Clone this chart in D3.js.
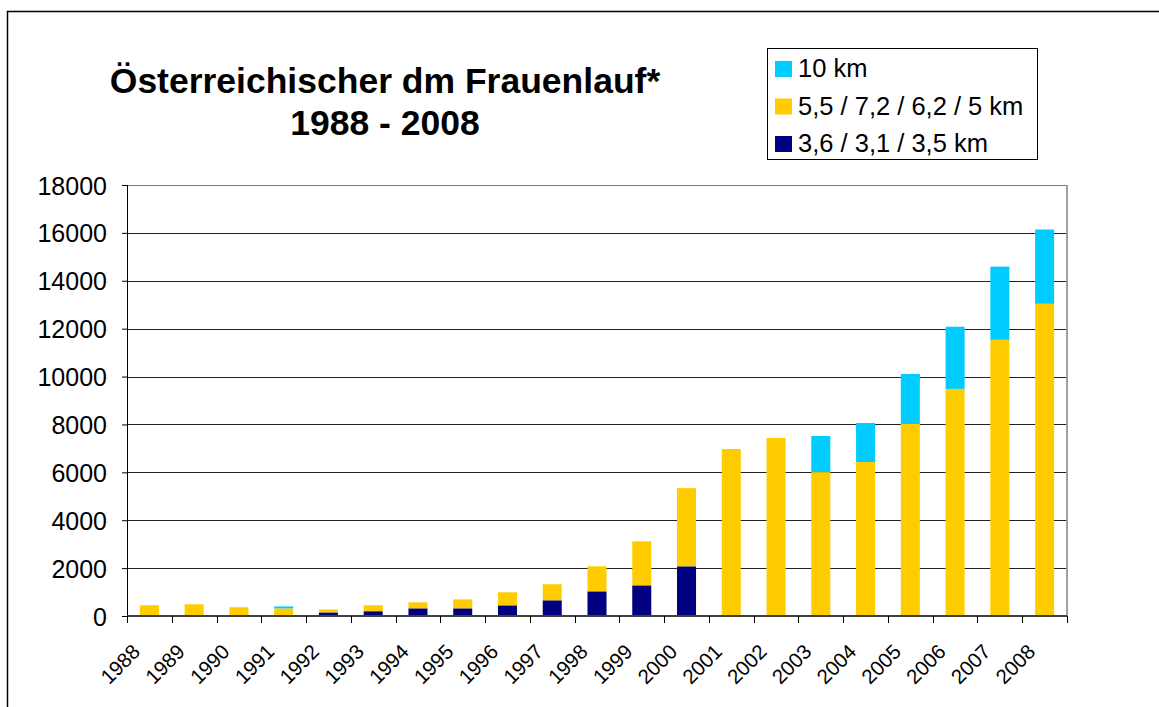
<!DOCTYPE html>
<html>
<head>
<meta charset="utf-8">
<script src="https://cdn.jsdelivr.net/npm/d3@7"></script>
<style>
  body { margin: 0; background: #fff; }
  svg { display: block; font-family: "Liberation Sans", Arial, sans-serif; }
</style>
</head>
<body>
<div id="chart"></div>
<script>
// data
const years = ["1988", "1989", "1990", "1991", "1992", "1993", "1994", "1995", "1996", "1997", "1998",
  "1999", "2000", "2001", "2002", "2003", "2004", "2005", "2006", "2007", "2008"];
const shortRun = [0, 0, 0, 0, 150, 200, 320, 320, 445, 655, 1030, 1280, 2075, 0, 0, 0, 0, 0, 0, 0, 0];
const midRun = [450, 490, 365, 320, 125, 250, 250, 375, 545, 670, 1045, 1840, 3265, 6975, 7435, 6010, 6430, 8020, 9485, 11535, 13040];
const longRun = [0, 0, 0, 80, 0, 0, 0, 0, 0, 0, 0, 0, 0, 0, 0, 1510, 1630, 2090, 2595, 3055, 3100];
const yTicks = [0, 2000, 4000, 6000, 8000, 10000, 12000, 14000, 16000, 18000];
const seriesNames = ["3,6 / 3,1 / 3,5 km", "5,5 / 7,2 / 6,2 / 5 km", "10 km"];
const seriesColors = ["#000080", "#FFCC00", "#00CCFF"];

const svgWidth = 1159;
const svgHeight = 707;
const marginLeft = 127;
const marginTop = 185;
const width = 1067 - marginLeft;
const height = 616 - marginTop;

const svg = d3.select("#chart")
  .append("svg")
  .attr("width", svgWidth)
  .attr("height", svgHeight);

// outer frame
svg.append("rect")
  .attr("x", 7.5).attr("y", 11.5)
  .attr("width", 1300).attr("height", 900)
  .attr("fill", "none")
  .attr("stroke", "#000")
  .attr("stroke-width", 1.5);

// Title
const title = svg.append("text")
  .attr("text-anchor", "middle")
  .style("font-weight", "bold")
  .style("font-size", "35.5px");
title.append("tspan").attr("x", 385).attr("y", 93).text("Österreichischer dm Frauenlauf*");
title.append("tspan").attr("x", 385).attr("y", 135).text("1988 - 2008");

// table for stacking
const table = years.map((y, i) => ({ year: y, s0: shortRun[i], s1: midRun[i], s2: longRun[i] }));
const keys = ["s0", "s1", "s2"];
const series = d3.stack().keys(keys)(table);

// Scales
const xScale = d3.scaleBand().domain(years).range([0, width]).padding(0);
const yScale = d3.scaleLinear().domain([0, 18000]).range([height, 0]);
const barWidth = xScale.bandwidth() * 0.425;

const chart = svg.append("g")
  .attr("transform", `translate(${marginLeft},${marginTop})`);

// gridlines
chart.append("g")
  .selectAll("line")
  .data(yTicks.filter((d) => d > 0))
  .join("line")
  .attr("x1", 0).attr("x2", width)
  .attr("y1", (d) => Math.round(yScale(d)) + 0.5)
  .attr("y2", (d) => Math.round(yScale(d)) + 0.5)
  .attr("stroke", (d) => d === 18000 ? "#777" : "#222")
  .attr("stroke-width", 1);

// right edge of plot area
chart.append("line")
  .attr("x1", width).attr("x2", width)
  .attr("y1", 0).attr("y2", height)
  .attr("stroke", "#a0a0a0")
  .attr("stroke-width", 2);

// bars
chart.append("g")
  .selectAll("g")
  .data(series)
  .join("g")
  .attr("fill", (d, i) => seriesColors[i])
  .selectAll("rect")
  .data((d) => d.filter((v) => v[1] - v[0] > 0))
  .join("rect")
  .attr("x", (d) => xScale(d.data.year) + (xScale.bandwidth() - barWidth) / 2)
  .attr("width", barWidth)
  .attr("y", (d) => yScale(d[1]))
  .attr("height", (d) => yScale(d[0]) - yScale(d[1]));

// y axis
const yAxis = chart.append("g")
  .call(d3.axisLeft(yScale).tickValues(yTicks).tickSize(5).tickPadding(15).tickFormat(d3.format("d")))
  .call((g) => g.select(".domain").attr("stroke", "#000").attr("d", `M0.5,0V${height}`))
  .call((g) => g.selectAll(".tick line").attr("stroke", "#000"))
  .call((g) => g.selectAll(".tick text")
    .attr("fill", "#000")
    .style("font-size", "25px")
    .attr("dy", "0.36em"));

// x axis
const xAxis = chart.append("g")
  .attr("transform", `translate(0,${height})`);

xAxis.append("line")
  .attr("x1", 0).attr("x2", width)
  .attr("y1", 0).attr("y2", 0)
  .attr("stroke", "#404040")
  .attr("stroke-width", 2);

xAxis.append("g")
  .selectAll("line")
  .data(d3.range(years.length + 1))
  .join("line")
  .attr("x1", (i) => Math.round(i * xScale.step()) + 0.5)
  .attr("x2", (i) => Math.round(i * xScale.step()) + 0.5)
  .attr("y1", 0).attr("y2", 7)
  .attr("stroke", "#000");

xAxis.append("g")
  .selectAll("text")
  .data(years)
  .join("text")
  .attr("transform", (d) => `translate(${xScale(d) + xScale.bandwidth() / 2 - 8},37) rotate(-45)`)
  .attr("text-anchor", "end")
  .style("font-size", "20.5px")
  .text((d) => d);

// Legend
const legend = svg.append("g");
legend.append("rect")
  .attr("x", 767.5).attr("y", 48.5)
  .attr("width", 270).attr("height", 111)
  .attr("fill", "#fff")
  .attr("stroke", "#000")
  .attr("stroke-width", 1);

const legendItems = [2, 1, 0];
const legendRow = legend.selectAll("g")
  .data(legendItems)
  .join("g")
  .attr("transform", (d, i) => `translate(775,${61 + i * 37.5})`);

legendRow.append("rect")
  .attr("width", 17).attr("height", 16)
  .attr("fill", (d) => seriesColors[d]);

legendRow.append("text")
  .attr("x", 23).attr("y", 16)
  .style("font-size", "25.5px")
  .text((d) => seriesNames[d]);
</script>
</body>
</html>
